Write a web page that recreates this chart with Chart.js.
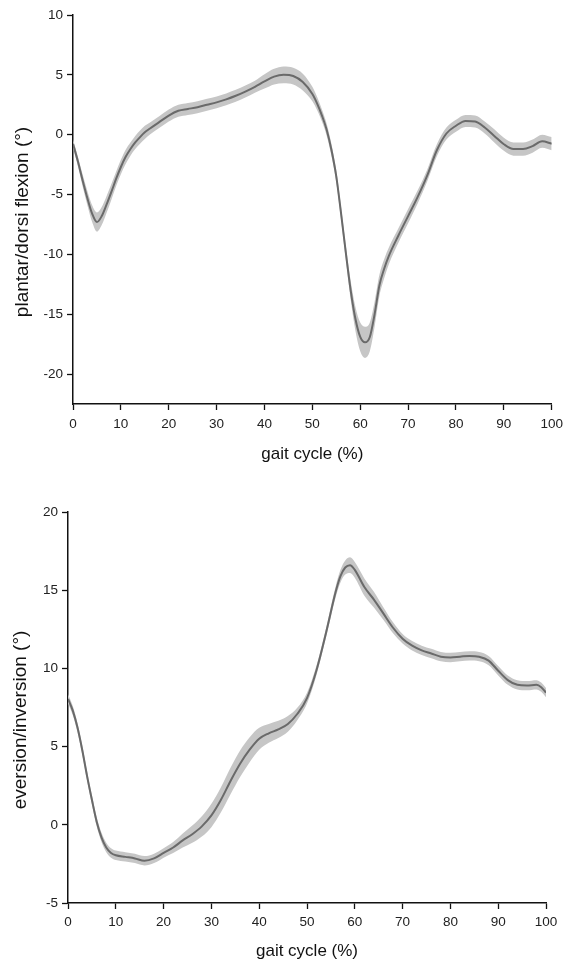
<!DOCTYPE html>
<html lang="en">
<head>
<meta charset="UTF-8">
<title>Ankle angles over the gait cycle</title>
<script src="https://cdn.jsdelivr.net/npm/chart.js@4"></script>
<style>
  body { margin: 0; background: #fff; }
  .panel { position: absolute; left: 0; width: 569px; height: 475px; }
  #topPanel { top: 0; }
  #bottomPanel { top: 490px; }
</style>
</head>
<body>
<div class="panel" id="topPanel"><canvas id="flexChart" width="569" height="475"></canvas></div>
<div class="panel" id="bottomPanel"><canvas id="eversionChart" width="569" height="475"></canvas></div>
<script>
// plantar/dorsi flexion (top panel)
const flexX = [0, 1, 2, 3, 4, 5, 6, 7, 8, 9, 10, 11, 12, 13, 14, 15, 16, 18, 20, 22, 24, 26, 28, 30, 32, 34, 36, 38, 40, 42, 44, 46, 48, 50, 51, 52, 53, 54, 55, 56, 57, 58, 59, 60, 61, 62, 63, 64, 65, 66, 68, 70, 72, 74, 76, 78, 80, 82, 84, 86, 88, 90, 92, 94, 96, 98, 100];
const flexMean = [-0.75, -2.2, -3.8, -5.3, -6.6, -7.3, -6.8, -5.85, -4.8, -3.7, -2.7, -1.85, -1.2, -0.65, -0.2, 0.2, 0.5, 1.05, 1.6, 2.0, 2.15, 2.3, 2.5, 2.7, 2.95, 3.25, 3.6, 4.0, 4.45, 4.85, 5.0, 4.9, 4.4, 3.4, 2.6, 1.6, 0.4, -1.3, -3.5, -6.6, -9.9, -13.0, -15.4, -16.9, -17.35, -16.9, -15.0, -12.6, -11.2, -10.1, -8.4, -6.8, -5.2, -3.4, -1.3, 0.1, 0.75, 1.15, 1.1, 0.6, -0.1, -0.8, -1.2, -1.2, -0.95, -0.55, -0.75];
const flexSpread = [0.35, 0.4, 0.5, 0.6, 0.7, 0.8, 0.75, 0.7, 0.65, 0.6, 0.6, 0.6, 0.55, 0.55, 0.55, 0.55, 0.5, 0.5, 0.5, 0.5, 0.5, 0.5, 0.5, 0.5, 0.5, 0.5, 0.5, 0.5, 0.6, 0.65, 0.7, 0.7, 0.7, 0.6, 0.55, 0.5, 0.5, 0.5, 0.5, 0.55, 0.6, 0.8, 1.0, 1.2, 1.3, 1.2, 1.05, 0.9, 0.8, 0.7, 0.6, 0.6, 0.55, 0.5, 0.5, 0.5, 0.5, 0.5, 0.5, 0.5, 0.55, 0.55, 0.55, 0.55, 0.55, 0.55, 0.55];
const flexYTicks = [-20, -15, -10, -5, 0, 5, 10];

// eversion/inversion (bottom panel)
const evX = [0, 1, 2, 3, 4, 5, 6, 7, 8, 9, 10, 12, 14, 16, 18, 20, 22, 24, 26, 28, 30, 32, 34, 36, 38, 40, 42, 44, 46, 48, 50, 52, 54, 56, 57, 58, 59, 60, 62, 64, 66, 68, 70, 72, 74, 76, 78, 80, 82, 84, 86, 88, 90, 92, 94, 96, 98, 99, 100];
const evMean = [8.05, 7.3, 6.2, 4.75, 3.1, 1.6, 0.2, -0.8, -1.45, -1.8, -1.95, -2.05, -2.15, -2.3, -2.15, -1.8, -1.45, -1.0, -0.6, -0.1, 0.6, 1.6, 2.8, 3.9, 4.8, 5.5, 5.85, 6.1, 6.45, 7.1, 8.1, 9.9, 12.3, 14.9, 15.9, 16.45, 16.6, 16.3, 15.2, 14.4, 13.5, 12.6, 11.9, 11.45, 11.15, 10.95, 10.75, 10.7, 10.75, 10.8, 10.75, 10.5, 9.85, 9.25, 8.95, 8.9, 8.95, 8.8, 8.45];
const evSpread = [0.3, 0.3, 0.3, 0.3, 0.3, 0.3, 0.3, 0.3, 0.3, 0.3, 0.3, 0.3, 0.3, 0.3, 0.3, 0.3, 0.35, 0.45, 0.55, 0.65, 0.75, 0.8, 0.85, 0.85, 0.8, 0.7, 0.6, 0.55, 0.5, 0.4, 0.35, 0.3, 0.3, 0.35, 0.4, 0.45, 0.5, 0.5, 0.55, 0.5, 0.4, 0.35, 0.3, 0.3, 0.3, 0.3, 0.3, 0.3, 0.3, 0.3, 0.3, 0.3, 0.3, 0.3, 0.3, 0.3, 0.3, 0.3, 0.3];
const evYTicks = [-5, 0, 5, 10, 15, 20];

const xTicks = [0, 10, 20, 30, 40, 50, 60, 70, 80, 90, 100];

const FONT = "'Liberation Sans', Arial, sans-serif";
const LINE = '#6a6a6a';
const BAND = '#c6c6c6';

// y title drawn by hand: in the original it sits a bit below the axis centre
const yTitlePlugin = {
    id: 'yTitle',
    afterDraw(chart, args, opts) {
        const ctx = chart.ctx;
        ctx.save();
        ctx.translate(opts.x, opts.y);
        ctx.rotate(-Math.PI / 2);
        ctx.font = '19px ' + FONT;
        ctx.fillStyle = '#111';
        ctx.textAlign = 'center';
        ctx.textBaseline = 'middle';
        ctx.fillText(opts.text, 0, 0);
        ctx.restore();
    }
};

function bandDatasets(xs, mean, spread) {
    const pts = f => xs.map((x, i) => ({ x: x, y: f(i) }));
    const common = { pointRadius: 0, tension: 0.4, cubicInterpolationMode: 'monotone' };
    return [
        { ...common, order: 2, data: pts(i => mean[i] + spread[i]), borderWidth: 0, borderColor: 'transparent', fill: false },
        { ...common, order: 1, data: pts(i => mean[i] - spread[i]), borderWidth: 0, borderColor: 'transparent', backgroundColor: BAND, fill: '-1' },
        // mean curve on top of the band
        { ...common, order: 0, data: pts(i => mean[i]), borderColor: LINE, borderWidth: 2, fill: false }
    ];
}

function makeChart(id, cfg) {
    new Chart(document.getElementById(id), {
        type: 'line',
        data: { datasets: bandDatasets(cfg.xs, cfg.mean, cfg.spread) },
        plugins: [yTitlePlugin],
        options: {
            responsive: false,
            animation: false,
            events: [],
            layout: { padding: cfg.padding },
            plugins: {
                legend: { display: false },
                tooltip: { enabled: false },
                yTitle: { text: cfg.yTitle, x: cfg.yTitleX, y: cfg.yTitleY }
            },
            scales: {
                x: {
                    type: 'linear', min: 0, max: 100,
                    afterBuildTicks: s => { s.ticks = xTicks.map(v => ({ value: v })); },
                    afterFit: s => { s.height = cfg.xHeight; },
                    grid: { drawOnChartArea: false, tickLength: 6, tickColor: '#111', tickWidth: 1.3 },
                    border: { color: '#111', width: 1.5 },
                    ticks: { font: { family: FONT, size: 13.5 }, color: '#222', padding: cfg.xPad, maxRotation: 0 },
                    title: { display: true, text: 'gait cycle (%)', color: '#111',
                             font: { family: FONT, size: 17 }, padding: { top: 0, bottom: cfg.xTitleBottom } }
                },
                y: {
                    type: 'linear', min: cfg.yMin, max: cfg.yMax,
                    afterBuildTicks: s => { s.ticks = cfg.yTicks.map(v => ({ value: v })); },
                    afterFit: s => { s.width = cfg.yWidth; },
                    grid: { drawOnChartArea: false, tickLength: 6, tickColor: '#111', tickWidth: 1.3 },
                    border: { color: '#111', width: 1.5 },
                    ticks: { font: { family: FONT, size: 13.5 }, color: '#222', padding: 4 }
                }
            }
        }
    });
}

makeChart('flexChart', {
    xs: flexX, mean: flexMean, spread: flexSpread, yTicks: flexYTicks,
    yMin: -22.5, yMax: 10, yTitle: 'plantar/dorsi flexion (°)',
    padding: { top: 15, right: 17, left: 0, bottom: 0 },
    xHeight: 71, yWidth: 73, xPad: 6, xTitleBottom: 10, yTitleX: 23, yTitleY: 222
});

makeChart('eversionChart', {
    xs: evX, mean: evMean, spread: evSpread, yTicks: evYTicks,
    yMin: -5, yMax: 20, yTitle: 'eversion/inversion (°)',
    padding: { top: 22, right: 23, left: 0, bottom: 0 },
    xHeight: 62, yWidth: 68, xPad: 5, xTitleBottom: 3, yTitleX: 21, yTitleY: 230
});
</script>
</body>
</html>
